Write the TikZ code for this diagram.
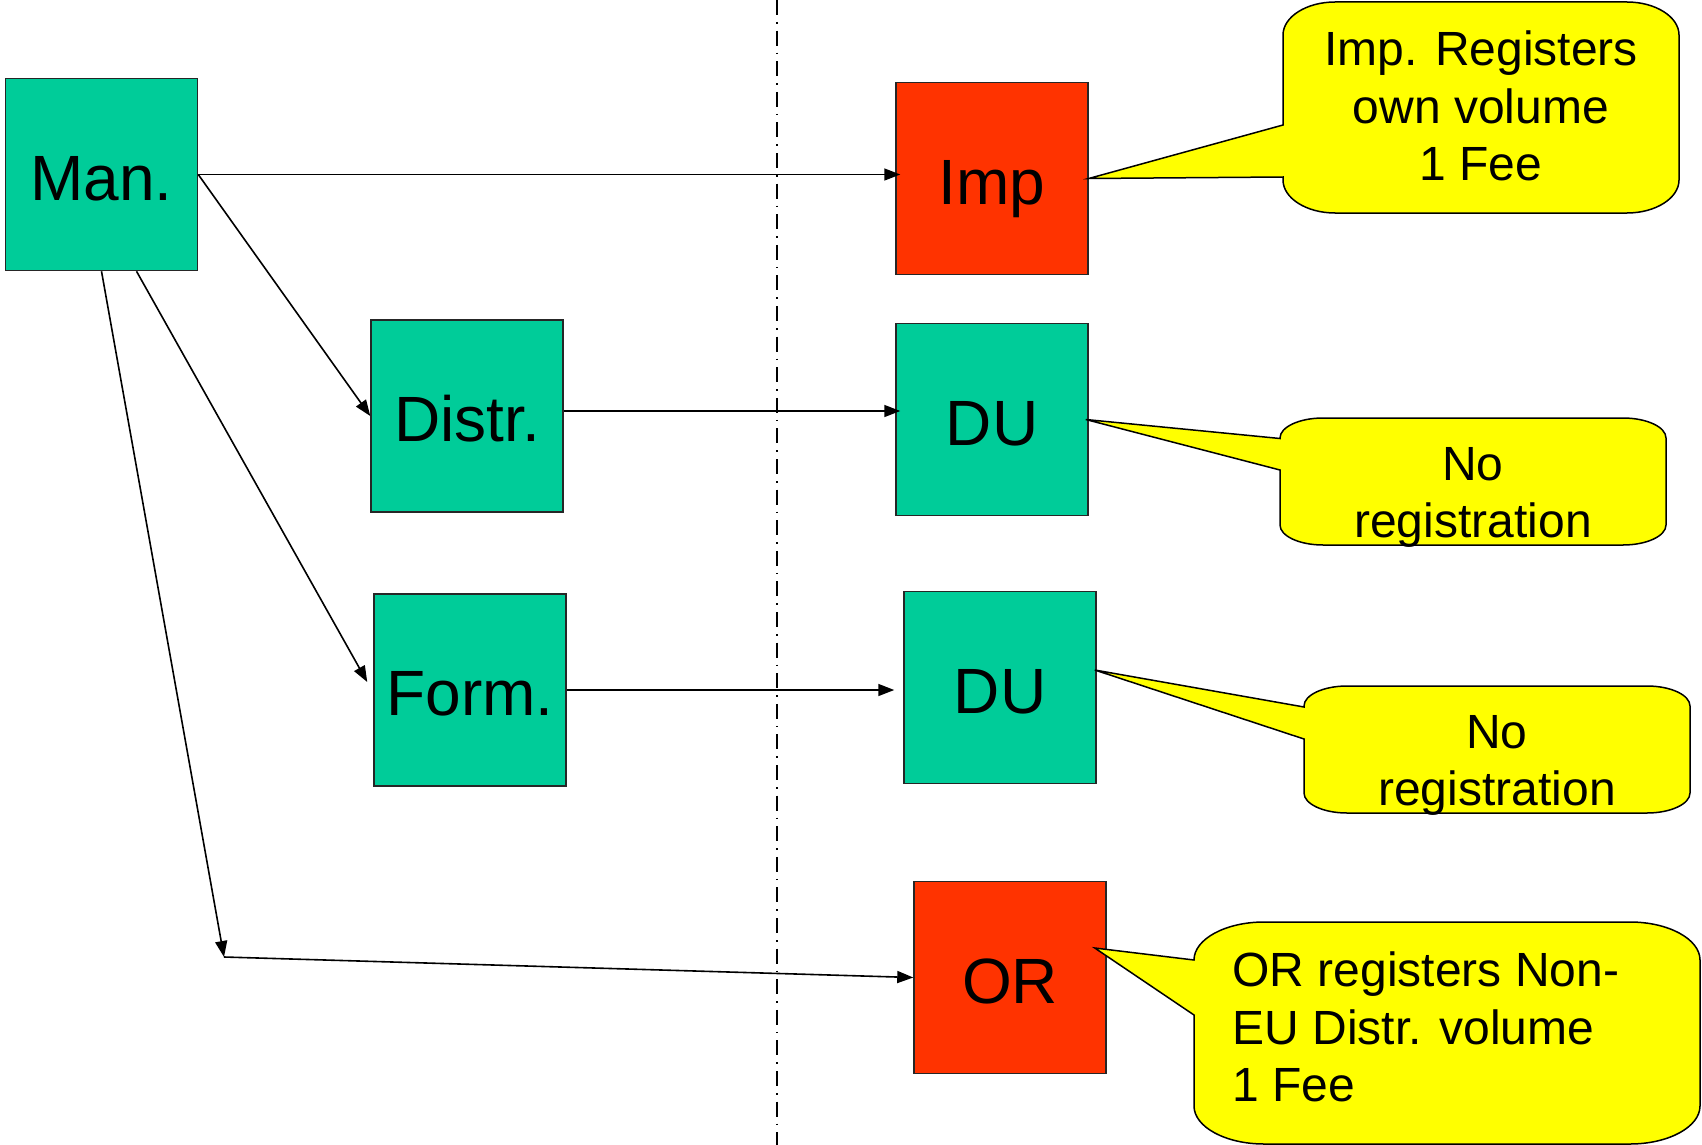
\documentclass[tikz,border=0pt]{standalone}
\usepackage{fontspec}
\setmainfont{Liberation Sans}
\usetikzlibrary{calc,arrows.meta}

\definecolor{boxgreen}{RGB}{0,204,153}
\definecolor{boxred}{RGB}{255,51,0}
\definecolor{noteyellow}{RGB}{255,255,0}

% speech bubble: x1,y1,x2,y2, pointer base ya,yb, tip, corner rx,ry
\newcommand{\bubble}[9]{%
\filldraw[note] (#1,#5) -- (#7) -- (#1,#6)
  -- (#1,{#4-#9}) .. controls (#1,{#4-0.45*#9}) and ({#1+0.45*#8},#4) .. ({#1+#8},#4)
  -- ({#3-#8},#4) .. controls ({#3-0.45*#8},#4) and (#3,{#4-0.45*#9}) .. (#3,{#4-#9})
  -- (#3,{#2+#9}) .. controls (#3,{#2+0.45*#9}) and ({#3-0.45*#8},#2) .. ({#3-#8},#2)
  -- ({#1+#8},#2) .. controls ({#1+0.45*#8},#2) and (#1,{#2+0.45*#9}) .. (#1,{#2+#9})
  -- cycle;}

\begin{document}
\begin{tikzpicture}[x=0.5pt, y=-0.5pt,
  greenbox/.style={draw=black!85, line width=0.75pt, fill=boxgreen, minimum width=96pt,
    minimum height=96pt, inner sep=0pt, text height=29pt, text depth=3.5pt,
    font=\fontsize{32}{38}\selectfont},
  redbox/.style={greenbox, fill=boxred},
  link/.style={line width=0.8pt, -{Triangle[length=8pt,width=6pt]}},
  note/.style={draw=black, line width=0.75pt, fill=noteyellow},
  notetext/.style={font=\fontsize{24}{28.75}\selectfont, align=center, inner sep=0pt},
  divider/.style={line width=0.6pt, dash pattern=on 7.5pt off 3.5pt on 0.8pt off 3.5pt}]
\useasboundingbox (0,0) rectangle (1702,1145);

% border line
\coordinate (top) at (777,0);
\coordinate (bottom) at (777,1145);
\draw[divider] (top) -- (bottom);

% boxes
\node[greenbox] (man) at (101.5,174.5) {Man.};
\node[redbox] (imp) at (992,178.5) {Imp};
\node[greenbox] (distr) at (467,416) {Distr.};
\node[greenbox] (du1) at (992,419.5) {DU};
\node[greenbox] (form) at (470,690) {Form.};
\node[greenbox] (du2) at (1000,687.5) {DU};
\node[redbox] (or) at (1010,977.5) {OR};
\coordinate (bend) at (224,957);

% flows
\draw[link] (man.east) -- ([xshift=2.5pt]man.east -| imp.west);
\draw[link] (man.east) -- (distr.west);
\draw[link] ([xshift=17.5pt]man.south) -- ([shift={(-3pt,4pt)}]form.west);
\draw[link] (man.south) -- (bend);
\draw[link] (bend) -- (or.west);
\draw[link] ([yshift=2.5pt]distr.east) -- ([shift={(2.5pt,2.5pt)}]distr.east -| du1.west);
\draw[link] (form.east) -- ([xshift=-4.5pt]form.east -| du2.west);

% notes
\coordinate (tipimp) at (imp.east);
\coordinate (tipdu1) at ([xshift=-1.5pt]du1.east);
\coordinate (tipdu2) at ([shift={(-1pt,8.75pt)}]du2.east);
\coordinate (tipor) at ([shift={(-6pt,14.75pt)}]or.east);
\bubble{1283}{2}{1679}{213}{125}{177}{tipimp}{52}{33}
\bubble{1280}{418}{1666}{545}{438.5}{470}{tipdu1}{43}{20}
\bubble{1304}{686}{1690}{813}{707}{739}{tipdu2}{43}{20}
\bubble{1194}{922}{1700}{1144}{960}{1015}{tipor}{70}{38}
\node[notetext] (impnote) at (1481,106) {Imp. Registers\\own volume\\1 Fee};
\node[notetext] (du1note) at (1473,497.5) {No\\registration};
\node[notetext] (du2note) at (1497,765.5) {No\\registration};
\node[notetext, align=left, anchor=west] (ornote) at (1232,1027) {OR registers Non-\\EU Distr. volume\\1 Fee};
\end{tikzpicture}
\end{document}
